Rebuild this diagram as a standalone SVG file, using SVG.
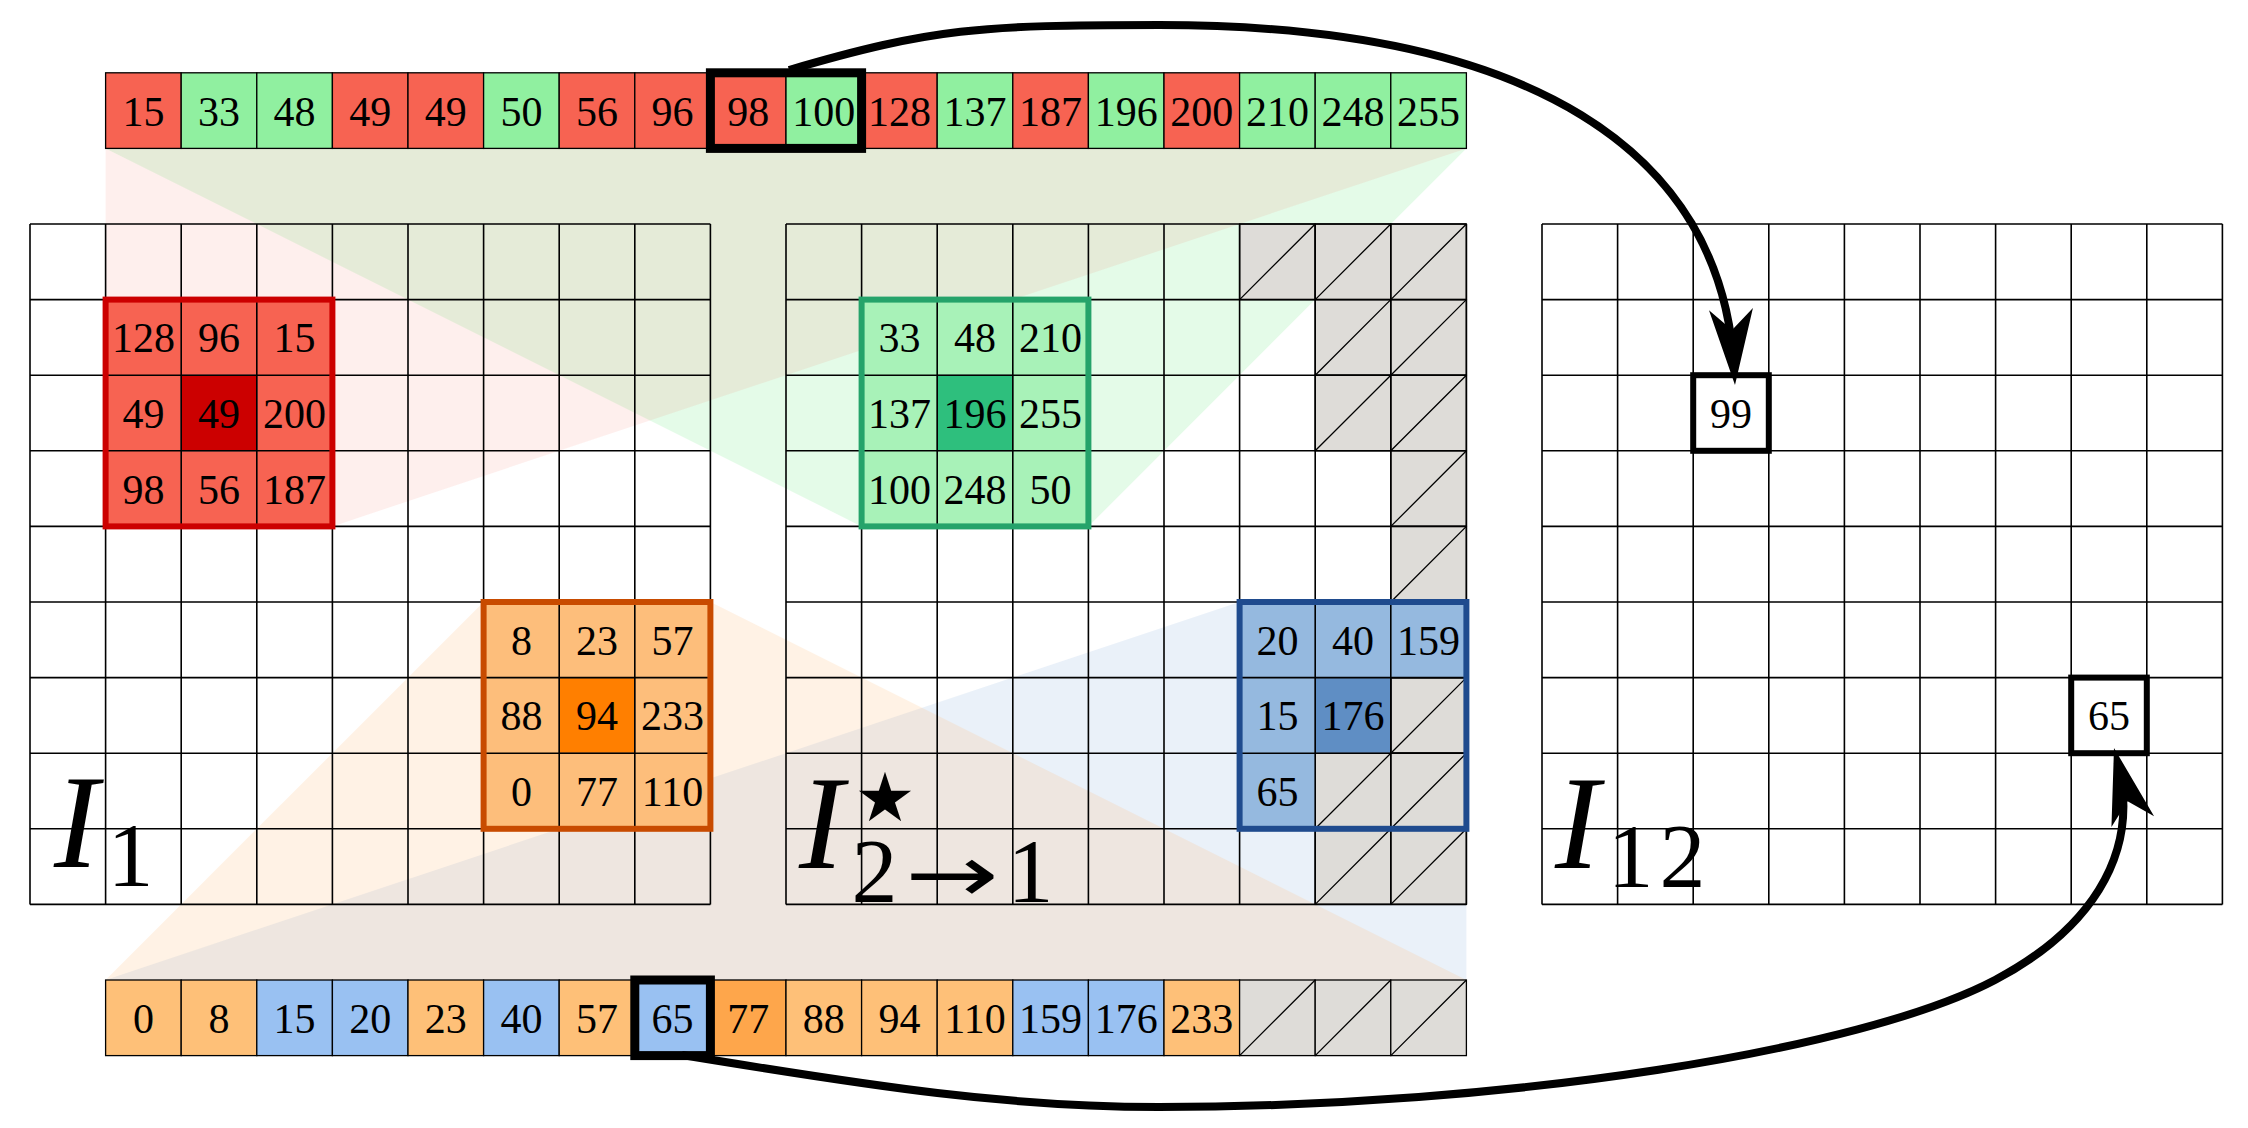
<svg xmlns="http://www.w3.org/2000/svg" width="2248" height="1128" viewBox="0 0 2248 1128">
<style>
text{font-family:'Liberation Serif','DejaVu Serif',serif}
.n{font-size:42px;text-anchor:middle;fill:#000}
.g{fill:none;stroke:#000;stroke-width:1.6}
.c{stroke:#000;stroke-width:1.3}
.h{fill:#dedcd8;stroke:#000;stroke-width:1.3}
.d{fill:none;stroke:#000;stroke-width:1.3}
.R{fill:#f76352}.G{fill:#90f0a0}.O{fill:#fec078}.O2{fill:#fea64b}.B{fill:#99c1f2}
.lab{fill:#000}
.it{font-style:italic;font-size:134px}
.sub{font-size:92px;text-anchor:middle}
.conn{fill:none;stroke:#000;stroke-width:8;marker-end:url(#ah)}
.hb{fill:none;stroke:#000;stroke-width:9}
.vb{fill:#fff;stroke:#000;stroke-width:6}
</style>
<defs>
<marker id="ah" markerUnits="userSpaceOnUse" orient="auto" viewBox="-62 -23 78 46" markerWidth="78" markerHeight="46" refX="0" refY="0">
<path d="M15,0 L-61,-22 L-40,0 L-61,22 Z" fill="#000"/>
</marker>
</defs>
<rect width="2248" height="1128" fill="#fff"/>

<g id="tints">
<polygon points="105.6,148.4 1466.4,148.4 1088.4,526.4 861.6,526.4" fill="#90f0a0" fill-opacity="0.24"/>
<polygon points="105.6,148.4 1466.4,148.4 332.4,526.4 105.6,526.4" fill="#f76352" fill-opacity="0.1"/>
<polygon points="1239.6,602 1466.4,602 1466.4,980 105.6,980" fill="#95b9df" fill-opacity="0.2"/>
<polygon points="483.6,602 710.4,602 1466.4,980 105.6,980" fill="#fdbe7b" fill-opacity="0.2"/>
</g>

<g id="hatch-I2">
<rect class="h" x="1239.6" y="224" width="75.6" height="75.6"/>
<rect class="h" x="1315.2" y="224" width="75.6" height="75.6"/>
<rect class="h" x="1390.8" y="224" width="75.6" height="75.6"/>
<rect class="h" x="1315.2" y="299.6" width="75.6" height="75.6"/>
<rect class="h" x="1390.8" y="299.6" width="75.6" height="75.6"/>
<rect class="h" x="1315.2" y="375.2" width="75.6" height="75.6"/>
<rect class="h" x="1390.8" y="375.2" width="75.6" height="75.6"/>
<rect class="h" x="1390.8" y="450.8" width="75.6" height="75.6"/>
<rect class="h" x="1390.8" y="526.4" width="75.6" height="75.6"/>
<rect class="h" x="1390.8" y="677.6" width="75.6" height="75.6"/>
<rect class="h" x="1315.2" y="753.2" width="75.6" height="75.6"/>
<rect class="h" x="1390.8" y="753.2" width="75.6" height="75.6"/>
<rect class="h" x="1315.2" y="828.8" width="75.6" height="75.6"/>
<rect class="h" x="1390.8" y="828.8" width="75.6" height="75.6"/>
<path class="d" d="M1239.6,299.6L1315.2,224 M1315.2,299.6L1390.8,224 M1390.8,299.6L1466.4,224 M1315.2,375.2L1390.8,299.6 M1390.8,375.2L1466.4,299.6 M1315.2,450.8L1390.8,375.2 M1390.8,450.8L1466.4,375.2 M1390.8,526.4L1466.4,450.8 M1390.8,602L1466.4,526.4 M1390.8,753.2L1466.4,677.6 M1315.2,828.8L1390.8,753.2 M1390.8,828.8L1466.4,753.2 M1315.2,904.4L1390.8,828.8 M1390.8,904.4L1466.4,828.8"/>
</g>

<g id="grid-I1">
<path class="g" d="M30,224V904.4 M105.6,224V904.4 M181.2,224V904.4 M256.8,224V904.4 M332.4,224V904.4 M408,224V904.4 M483.6,224V904.4 M559.2,224V904.4 M634.8,224V904.4 M710.4,224V904.4 M30,224H710.4 M30,299.6H710.4 M30,375.2H710.4 M30,450.8H710.4 M30,526.4H710.4 M30,602H710.4 M30,677.6H710.4 M30,753.2H710.4 M30,828.8H710.4 M30,904.4H710.4"/>
</g>
<g id="grid-I2">
<path class="g" d="M786,224V904.4 M861.6,224V904.4 M937.2,224V904.4 M1012.8,224V904.4 M1088.4,224V904.4 M1164,224V904.4 M1239.6,224V904.4 M1315.2,224V904.4 M1390.8,224V904.4 M1466.4,224V904.4 M786,224H1466.4 M786,299.6H1466.4 M786,375.2H1466.4 M786,450.8H1466.4 M786,526.4H1466.4 M786,602H1466.4 M786,677.6H1466.4 M786,753.2H1466.4 M786,828.8H1466.4 M786,904.4H1466.4"/>
</g>
<g id="grid-I12">
<path class="g" d="M1542,224V904.4 M1617.6,224V904.4 M1693.2,224V904.4 M1768.8,224V904.4 M1844.4,224V904.4 M1920,224V904.4 M1995.6,224V904.4 M2071.2,224V904.4 M2146.8,224V904.4 M2222.4,224V904.4 M1542,224H2222.4 M1542,299.6H2222.4 M1542,375.2H2222.4 M1542,450.8H2222.4 M1542,526.4H2222.4 M1542,602H2222.4 M1542,677.6H2222.4 M1542,753.2H2222.4 M1542,828.8H2222.4 M1542,904.4H2222.4"/>
</g>

<g id="block-red">
<rect x="105.6" y="299.6" width="226.8" height="226.8" fill="#f76352"/>
<rect x="181.2" y="375.2" width="75.6" height="75.6" fill="#cc0000" stroke="#6d6a80" stroke-width="1"/>
<path class="g" d="M181.2,299.6V526.4 M256.8,299.6V526.4 M105.6,375.2H332.4 M105.6,450.8H332.4"/>
<rect x="105.6" y="299.6" width="226.8" height="226.8" fill="none" stroke="#cc0000" stroke-width="6"/>
<text class="n" x="143.4" y="352.4">128</text><text class="n" x="219" y="352.4">96</text><text class="n" x="294.6" y="352.4">15</text>
<text class="n" x="143.4" y="428">49</text><text class="n" x="219" y="428">49</text><text class="n" x="294.6" y="428">200</text>
<text class="n" x="143.4" y="503.6">98</text><text class="n" x="219" y="503.6">56</text><text class="n" x="294.6" y="503.6">187</text>
</g>

<g id="block-orange">
<rect x="483.6" y="602" width="226.8" height="226.8" fill="#fdbe7b"/>
<rect x="559.2" y="677.6" width="75.6" height="75.6" fill="#ff7f00" stroke="#6d6a80" stroke-width="1"/>
<path class="g" d="M559.2,602V828.8 M634.8,602V828.8 M483.6,677.6H710.4 M483.6,753.2H710.4"/>
<rect x="483.6" y="602" width="226.8" height="226.8" fill="none" stroke="#c84b00" stroke-width="6"/>
<text class="n" x="521.4" y="654.8">8</text><text class="n" x="597" y="654.8">23</text><text class="n" x="672.6" y="654.8">57</text>
<text class="n" x="521.4" y="730.4">88</text><text class="n" x="597" y="730.4">94</text><text class="n" x="672.6" y="730.4">233</text>
<text class="n" x="521.4" y="806">0</text><text class="n" x="597" y="806">77</text><text class="n" x="672.6" y="806">110</text>
</g>

<g id="block-green">
<rect x="861.6" y="299.6" width="226.8" height="226.8" fill="#a8f2b8"/>
<rect x="937.2" y="375.2" width="75.6" height="75.6" fill="#2ebf7d" stroke="#6d6a80" stroke-width="1"/>
<path class="g" d="M937.2,299.6V526.4 M1012.8,299.6V526.4 M861.6,375.2H1088.4 M861.6,450.8H1088.4"/>
<rect x="861.6" y="299.6" width="226.8" height="226.8" fill="none" stroke="#25a36a" stroke-width="6"/>
<text class="n" x="899.4" y="352.4">33</text><text class="n" x="975" y="352.4">48</text><text class="n" x="1050.6" y="352.4">210</text>
<text class="n" x="899.4" y="428">137</text><text class="n" x="975" y="428">196</text><text class="n" x="1050.6" y="428">255</text>
<text class="n" x="899.4" y="503.6">100</text><text class="n" x="975" y="503.6">248</text><text class="n" x="1050.6" y="503.6">50</text>
</g>

<g id="block-blue">
<rect x="1239.6" y="602" width="226.8" height="75.6" fill="#95b9df"/>
<rect x="1239.6" y="677.6" width="75.6" height="151.2" fill="#95b9df"/>
<rect x="1315.2" y="677.6" width="75.6" height="75.6" fill="#5f8ec4" stroke="#6d6a80" stroke-width="1"/>
<path class="g" d="M1315.2,602V828.8 M1390.8,602V753.2 M1239.6,677.6H1466.4 M1239.6,753.2H1466.4"/>
<rect x="1239.6" y="602" width="226.8" height="226.8" fill="none" stroke="#1f4b8e" stroke-width="6"/>
<text class="n" x="1277.4" y="654.8">20</text><text class="n" x="1353" y="654.8">40</text><text class="n" x="1428.6" y="654.8">159</text>
<text class="n" x="1277.4" y="730.4">15</text><text class="n" x="1353" y="730.4">176</text>
<text class="n" x="1277.4" y="806">65</text>
</g>

<g id="strip-top">
<rect class="c R" x="105.6" y="72.8" width="75.6" height="75.6"/>
<rect class="c G" x="181.2" y="72.8" width="75.6" height="75.6"/>
<rect class="c G" x="256.8" y="72.8" width="75.6" height="75.6"/>
<rect class="c R" x="332.4" y="72.8" width="75.6" height="75.6"/>
<rect class="c R" x="408" y="72.8" width="75.6" height="75.6"/>
<rect class="c G" x="483.6" y="72.8" width="75.6" height="75.6"/>
<rect class="c R" x="559.2" y="72.8" width="75.6" height="75.6"/>
<rect class="c R" x="634.8" y="72.8" width="75.6" height="75.6"/>
<rect class="c R" x="710.4" y="72.8" width="75.6" height="75.6"/>
<rect class="c G" x="786" y="72.8" width="75.6" height="75.6"/>
<rect class="c R" x="861.6" y="72.8" width="75.6" height="75.6"/>
<rect class="c G" x="937.2" y="72.8" width="75.6" height="75.6"/>
<rect class="c R" x="1012.8" y="72.8" width="75.6" height="75.6"/>
<rect class="c G" x="1088.4" y="72.8" width="75.6" height="75.6"/>
<rect class="c R" x="1164" y="72.8" width="75.6" height="75.6"/>
<rect class="c G" x="1239.6" y="72.8" width="75.6" height="75.6"/>
<rect class="c G" x="1315.2" y="72.8" width="75.6" height="75.6"/>
<rect class="c G" x="1390.8" y="72.8" width="75.6" height="75.6"/>
<text class="n" x="143.4" y="125.6">15</text><text class="n" x="219" y="125.6">33</text><text class="n" x="294.6" y="125.6">48</text><text class="n" x="370.2" y="125.6">49</text><text class="n" x="445.8" y="125.6">49</text><text class="n" x="521.4" y="125.6">50</text><text class="n" x="597" y="125.6">56</text><text class="n" x="672.6" y="125.6">96</text><text class="n" x="748.2" y="125.6">98</text><text class="n" x="823.8" y="125.6">100</text><text class="n" x="899.4" y="125.6">128</text><text class="n" x="975" y="125.6">137</text><text class="n" x="1050.6" y="125.6">187</text><text class="n" x="1126.2" y="125.6">196</text><text class="n" x="1201.8" y="125.6">200</text><text class="n" x="1277.4" y="125.6">210</text><text class="n" x="1353" y="125.6">248</text><text class="n" x="1428.6" y="125.6">255</text>
<rect class="hb" x="710.4" y="72.8" width="151.2" height="75.6"/>
</g>

<g id="strip-bottom">
<rect class="c O" x="105.6" y="980" width="75.6" height="75.6"/>
<rect class="c O" x="181.2" y="980" width="75.6" height="75.6"/>
<rect class="c B" x="256.8" y="980" width="75.6" height="75.6"/>
<rect class="c B" x="332.4" y="980" width="75.6" height="75.6"/>
<rect class="c O" x="408" y="980" width="75.6" height="75.6"/>
<rect class="c B" x="483.6" y="980" width="75.6" height="75.6"/>
<rect class="c O" x="559.2" y="980" width="75.6" height="75.6"/>
<rect class="c B" x="634.8" y="980" width="75.6" height="75.6"/>
<rect class="c O2" x="710.4" y="980" width="75.6" height="75.6"/>
<rect class="c O" x="786" y="980" width="75.6" height="75.6"/>
<rect class="c O" x="861.6" y="980" width="75.6" height="75.6"/>
<rect class="c O" x="937.2" y="980" width="75.6" height="75.6"/>
<rect class="c B" x="1012.8" y="980" width="75.6" height="75.6"/>
<rect class="c B" x="1088.4" y="980" width="75.6" height="75.6"/>
<rect class="c O" x="1164" y="980" width="75.6" height="75.6"/>
<rect class="h" x="1239.6" y="980" width="75.6" height="75.6"/>
<rect class="h" x="1315.2" y="980" width="75.6" height="75.6"/>
<rect class="h" x="1390.8" y="980" width="75.6" height="75.6"/>
<path class="d" d="M1239.6,1055.6L1315.2,980 M1315.2,1055.6L1390.8,980 M1390.8,1055.6L1466.4,980"/>
<text class="n" x="143.4" y="1032.8">0</text><text class="n" x="219" y="1032.8">8</text><text class="n" x="294.6" y="1032.8">15</text><text class="n" x="370.2" y="1032.8">20</text><text class="n" x="445.8" y="1032.8">23</text><text class="n" x="521.4" y="1032.8">40</text><text class="n" x="597" y="1032.8">57</text><text class="n" x="672.6" y="1032.8">65</text><text class="n" x="748.2" y="1032.8">77</text><text class="n" x="823.8" y="1032.8">88</text><text class="n" x="899.4" y="1032.8">94</text><text class="n" x="975" y="1032.8">110</text><text class="n" x="1050.6" y="1032.8">159</text><text class="n" x="1126.2" y="1032.8">176</text><text class="n" x="1201.8" y="1032.8">233</text>
<rect class="hb" x="634.8" y="980" width="75.6" height="75.6"/>
</g>

<g id="values-I12">
<rect class="vb" x="1693.2" y="375.2" width="75.6" height="75.6"/>
<text class="n" x="1731" y="428">99</text>
<rect class="vb" x="2071.2" y="677.6" width="75.6" height="75.6"/>
<text class="n" x="2109" y="730.4">65</text>
</g>

<g id="labels">
<text class="lab it" x="54" y="867">I</text>
<text class="lab sub" x="130.5" y="886">1</text>
<text class="lab it" x="799" y="868">I</text>
<text x="885" y="821" style="font-family:'DejaVu Sans',sans-serif" font-size="68" text-anchor="middle">★</text>
<text class="lab sub" x="874.5" y="902">2</text>
<text x="905" y="902" style="font-family:'DejaVu Sans',sans-serif" font-size="80" textLength="94" lengthAdjust="spacingAndGlyphs">→</text>
<text class="lab sub" x="1030.5" y="902">1</text>
<text class="lab it" x="1555" y="868">I</text>
<text class="lab sub" x="1630.5" y="887">1</text>
<text class="lab sub" x="1682.5" y="887">2</text>
</g>

<g id="connectors">
<path class="conn" d="M789,70 C933,28 979,25 1159,25 C1530,25 1722.5,150.3 1734.2,370"/>
<path class="conn" d="M682,1055 C877,1087 1009,1107 1159,1107 C1509,1107 1862.4,1050 1995,980 C2083.4,933.3 2142.4,859.4 2117.7,762.5"/>
</g>
</svg>
